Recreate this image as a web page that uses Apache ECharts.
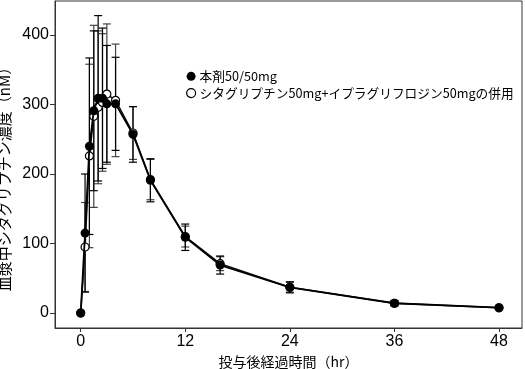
<!DOCTYPE html>
<html>
<head>
<meta charset="utf-8">
<script src="https://cdn.jsdelivr.net/npm/echarts@6/dist/echarts.min.js"></script>
<style>
html,body{margin:0;padding:0;background:#fff;}
#c{width:525px;height:369px;}
</style>
</head>
<body>
<div id="c"></div>
<script>
// ---- data ----
var times = [0, 0.5, 1, 1.5, 2, 2.5, 3, 4, 6, 8, 12, 16, 24, 36, 48];
var comboMean = [0, 115, 240, 291, 309, 309, 301, 301, 257, 191, 109, 69, 37, 14, 7.6];
var comboSD   = [0, 85, 127, 115, 119, 101, 84, 67, 40, 31, 19, 13, 8, 4, 2];
var coadminMean = [0, 95, 226, 283, 296, 303, 315, 306, 259, 192, 110, 71, 37, 14, 7.5];
var coadminSD   = [0, 64, 132, 131, 110, 99, 101, 81, 38, 29, 15, 10, 7, 3.5, 2];
var xTicks = [0, 12, 24, 36, 48];
var yTicks = [0, 100, 200, 300, 400];
var nameCombo = '本剤50/50mg';
var nameCoadmin = 'シタグリプチン50mg+イプラグリフロジン50mgの併用';
var xName = '投与後経過時間（hr）';
var yName = '血漿中シタグリプチン濃度（nM）';

var FONT = '"Liberation Sans", "Noto Sans CJK JP", sans-serif';

function pairs(mean) { return times.map(function (t, i) { return [t, mean[i]]; }); }
function bars(mean, sd) {
  var out = [];
  times.forEach(function (t, i) { if (sd[i] > 0) out.push([t, mean[i] - sd[i], mean[i] + sd[i]]); });
  return out;
}
function errRender(color) {
  return function (params, api) {
    var x = api.value(0);
    var lo = api.coord([x, api.value(1)]);
    var hi = api.coord([x, api.value(2)]);
    var hw = 4;
    var st = { stroke: color, lineWidth: 1.2 };
    return {
      type: 'group',
      children: [
        { type: 'line', shape: { x1: hi[0], y1: hi[1], x2: lo[0], y2: lo[1] }, style: st },
        { type: 'line', shape: { x1: hi[0] - hw, y1: hi[1], x2: hi[0] + hw, y2: hi[1] }, style: st },
        { type: 'line', shape: { x1: lo[0] - hw, y1: lo[1], x2: lo[0] + hw, y2: lo[1] }, style: st }
      ]
    };
  };
}

var chart = echarts.init(document.getElementById('c'), null, { renderer: 'canvas' });
chart.setOption({
  animation: false,
  backgroundColor: '#fff',
  textStyle: { fontFamily: FONT },
  grid: { left: 55, right: 3, top: 1, bottom: 41, show: true, borderColor: '#333', borderWidth: 1,
          containLabel: false, outerBoundsMode: 'none' },
  legend: {
    orient: 'vertical',
    left: 186, top: 70,
    padding: 0,
    itemWidth: 9, itemHeight: 9, itemGap: 4,
    textStyle: { fontSize: 12.7, color: '#000', fontFamily: '"Noto Sans CJK JP", sans-serif', padding: [0, 0, 0, -1] },
    data: [
      { name: nameCombo, icon: 'circle', itemStyle: { color: '#000', borderWidth: 0 } },
      { name: nameCoadmin, icon: 'circle', itemStyle: { color: '#fff', borderColor: '#000', borderWidth: 1.2 } }
    ]
  },
  xAxis: {
    type: 'value', min: -2.95, max: 50.64,
    name: xName, nameLocation: 'middle', nameGap: 22,
    nameTextStyle: { fontSize: 14, color: '#000', fontFamily: '"Noto Sans CJK JP", sans-serif' },
    axisLine: { show: true, onZero: false, lineStyle: { color: '#333', width: 1 } },
    axisTick: { show: true, length: 4, inside: false, customValues: xTicks, lineStyle: { color: '#333' } },
    axisLabel: { customValues: xTicks, fontSize: 16, color: '#000', margin: 6 },
    splitLine: { show: false }
  },
  yAxis: {
    type: 'value', min: -21.6, max: 449,
    name: yName, nameLocation: 'middle', nameGap: 39, nameRotate: 90,
    nameTextStyle: { fontSize: 15, color: '#000', fontFamily: '"Noto Sans CJK JP", sans-serif', padding: [0, 22, 0, 0] },
    axisLine: { show: true, onZero: false, lineStyle: { color: '#333', width: 1 } },
    axisTick: { show: true, length: 5, inside: false, customValues: yTicks, lineStyle: { color: '#333' } },
    axisLabel: { customValues: yTicks, fontSize: 16, color: '#000', margin: 6 },
    splitLine: { show: false }
  },
  series: [
    {
      type: 'custom', name: 'errCoadmin', renderItem: errRender('#444'),
      data: bars(coadminMean, coadminSD), encode: { x: 0, y: [1, 2] }, z: 1, silent: true
    },
    {
      type: 'custom', name: 'errCombo', renderItem: errRender('#000'),
      data: bars(comboMean, comboSD), encode: { x: 0, y: [1, 2] }, z: 2, silent: true
    },
    {
      type: 'line', name: nameCoadmin, data: pairs(coadminMean),
      symbol: 'circle', symbolSize: 8, showAllSymbol: true,
      itemStyle: { color: '#fff', borderColor: '#000', borderWidth: 1.2 },
      lineStyle: { color: '#111', width: 1.5 }, z: 3
    },
    {
      type: 'line', name: nameCombo, data: pairs(comboMean),
      symbol: 'circle', symbolSize: 9, showAllSymbol: true,
      itemStyle: { color: '#000', borderWidth: 0 },
      lineStyle: { color: '#000', width: 1.8 }, z: 4
    }
  ]
});
</script>
</body>
</html>
